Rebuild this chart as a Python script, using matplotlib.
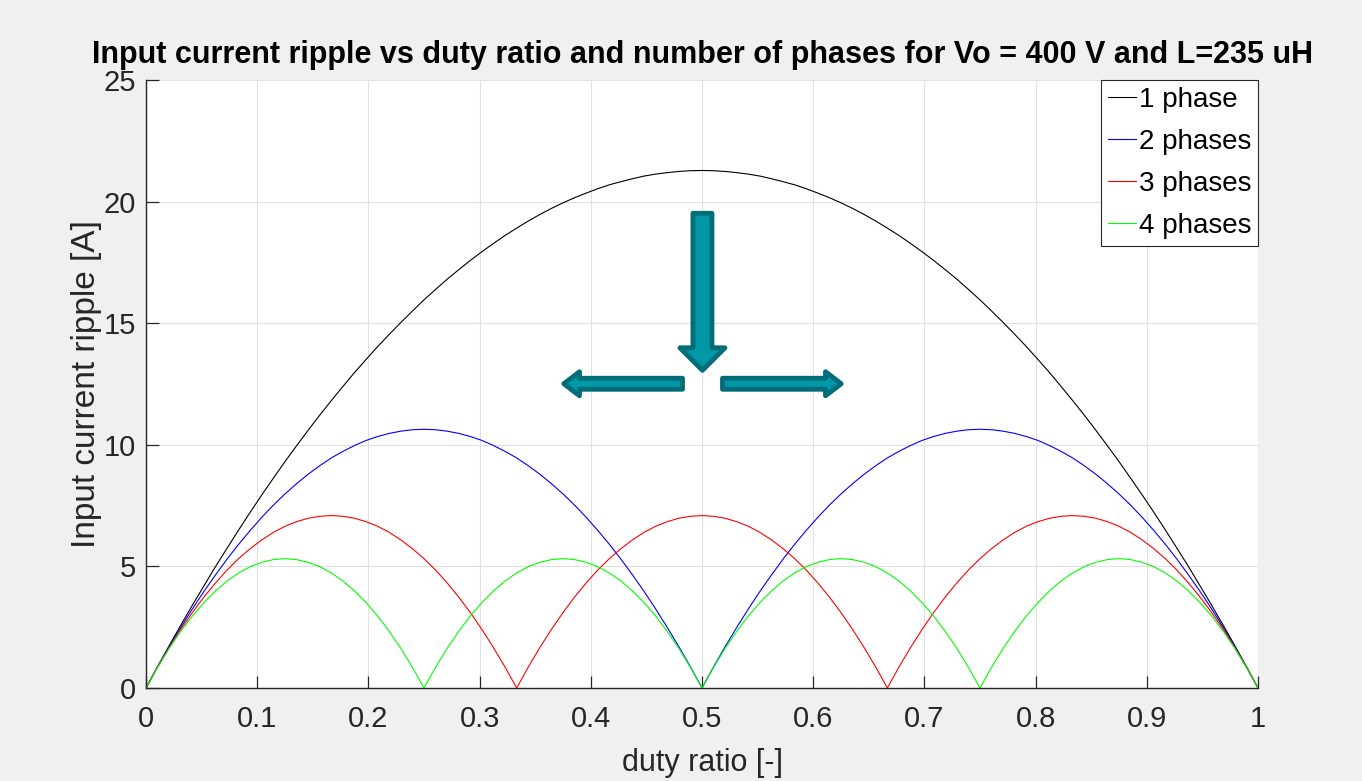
import numpy as np
import matplotlib
matplotlib.use("Agg")
import matplotlib.pyplot as plt
from matplotlib.patches import Polygon
import matplotlib.transforms as mtransforms

plt.rcParams['font.family'] = ['Liberation Sans', 'DejaVu Sans']

# ---- data ----
duty = np.linspace(0.0, 1.0, 97)

ripple_1 = [0.00, 0.88, 1.74, 2.58, 3.40, 4.20, 4.99, 5.75, 6.50, 7.23, 7.94, 8.63,
            9.31, 9.96, 10.60, 11.22, 11.82, 12.40, 12.97, 13.51, 14.04, 14.54, 15.03, 15.50,
            15.96, 16.39, 16.81, 17.20, 17.58, 17.94, 18.28, 18.61, 18.91, 19.20, 19.47, 19.72,
            19.95, 20.16, 20.35, 20.53, 20.69, 20.82, 20.94, 21.05, 21.13, 21.19, 21.24, 21.27,
            21.28,
            21.27, 21.24, 21.19, 21.13, 21.05, 20.94, 20.82, 20.69, 20.53, 20.35, 20.16, 19.95,
            19.72, 19.47, 19.20, 18.91, 18.61, 18.28, 17.94, 17.58, 17.20, 16.81, 16.39, 15.96,
            15.50, 15.03, 14.54, 14.04, 13.51, 12.97, 12.40, 11.82, 11.22, 10.60, 9.96, 9.31,
            8.63, 7.94, 7.23, 6.50, 5.75, 4.99, 4.20, 3.40, 2.58, 1.74, 0.88, 0.00]

ripple_2 = [0.00, 0.87, 1.70, 2.49, 3.25, 3.97, 4.65, 5.30, 5.91, 6.48, 7.02, 7.52,
            7.98, 8.40, 8.79, 9.14, 9.46, 9.73, 9.97, 10.18, 10.34, 10.47, 10.56, 10.62,
            10.64,
            10.62, 10.56, 10.47, 10.34, 10.18, 9.97, 9.73, 9.46, 9.14, 8.79, 8.40, 7.98,
            7.52, 7.02, 6.48, 5.91, 5.30, 4.65, 3.97, 3.25, 2.49, 1.70, 0.87, 0.00,
            0.87, 1.70, 2.49, 3.25, 3.97, 4.65, 5.30, 5.91, 6.48, 7.02, 7.52,
            7.98, 8.40, 8.79, 9.14, 9.46, 9.73, 9.97, 10.18, 10.34, 10.47, 10.56, 10.62,
            10.64,
            10.62, 10.56, 10.47, 10.34, 10.18, 9.97, 9.73, 9.46, 9.14, 8.79, 8.40, 7.98,
            7.52, 7.02, 6.48, 5.91, 5.30, 4.65, 3.97, 3.25, 2.49, 1.70, 0.87, 0.00]

ripple_3 = [0.00, 0.86, 1.66, 2.41, 3.10, 3.74, 4.32, 4.85, 5.32, 5.73, 6.09, 6.40,
            6.65, 6.84, 6.98, 7.06, 7.09, 7.06, 6.98, 6.84, 6.65, 6.40, 6.09, 5.73,
            5.32, 4.85, 4.32, 3.74, 3.10, 2.41, 1.66, 0.86, 0.00,
            0.86, 1.66, 2.41, 3.10, 3.74, 4.32, 4.85, 5.32, 5.73, 6.09, 6.40,
            6.65, 6.84, 6.98, 7.06, 7.09, 7.06, 6.98, 6.84, 6.65, 6.40, 6.09, 5.73,
            5.32, 4.85, 4.32, 3.74, 3.10, 2.41, 1.66, 0.86, 0.00,
            0.86, 1.66, 2.41, 3.10, 3.74, 4.32, 4.85, 5.32, 5.73, 6.09, 6.40,
            6.65, 6.84, 6.98, 7.06, 7.09, 7.06, 6.98, 6.84, 6.65, 6.40, 6.09, 5.73,
            5.32, 4.85, 4.32, 3.74, 3.10, 2.41, 1.66, 0.86, 0.00]

ripple_4 = [0.00, 0.85, 1.63, 2.33, 2.96, 3.51, 3.99, 4.40, 4.73, 4.99, 5.17, 5.28,
            5.32, 5.28, 5.17, 4.99, 4.73, 4.40, 3.99, 3.51, 2.96, 2.33, 1.63, 0.85, 0.00,
            0.85, 1.63, 2.33, 2.96, 3.51, 3.99, 4.40, 4.73, 4.99, 5.17, 5.28,
            5.32, 5.28, 5.17, 4.99, 4.73, 4.40, 3.99, 3.51, 2.96, 2.33, 1.63, 0.85, 0.00,
            0.85, 1.63, 2.33, 2.96, 3.51, 3.99, 4.40, 4.73, 4.99, 5.17, 5.28,
            5.32, 5.28, 5.17, 4.99, 4.73, 4.40, 3.99, 3.51, 2.96, 2.33, 1.63, 0.85, 0.00,
            0.85, 1.63, 2.33, 2.96, 3.51, 3.99, 4.40, 4.73, 4.99, 5.17, 5.28,
            5.32, 5.28, 5.17, 4.99, 4.73, 4.40, 3.99, 3.51, 2.96, 2.33, 1.63, 0.85, 0.00]

series_labels = ['1 phase', '2 phases', '3 phases', '4 phases']
series_colors = ['#000000', '#0000ff', '#ff0000', '#00ff00']

x_ticks = [0, 0.1, 0.2, 0.3, 0.4, 0.5, 0.6, 0.7, 0.8, 0.9, 1.0]
x_ticklabels = ['0', '0.1', '0.2', '0.3', '0.4', '0.5', '0.6', '0.7', '0.8', '0.9', '1']
y_ticks = [0, 5, 10, 15, 20, 25]
y_ticklabels = ['0', '5', '10', '15', '20', '25']

# ---- figure ----
W, H = 1362, 781
fig = plt.figure(figsize=(W / 100, H / 100), dpi=100, facecolor='#f0f0f0')
ax = fig.add_axes([146 / W, (H - 688) / H, 1112 / W, 608 / H])
ax.set_facecolor('white')

for ys, lab, col in zip([ripple_1, ripple_2, ripple_3, ripple_4], series_labels, series_colors):
    ax.plot(duty, ys, color=col, lw=0.8, label=lab, solid_joinstyle='round')

ax.set_xlim(0, 1)
ax.set_ylim(0, 25)
ax.set_xticks(x_ticks)
ax.set_xticklabels(x_ticklabels)
ax.set_yticks(y_ticks)
ax.set_yticklabels(y_ticklabels)

ax.grid(True, color='#e0e0e0', lw=0.8)
ax.set_axisbelow(True)
for s in ['top', 'right']:
    ax.spines[s].set_visible(False)
for s in ['left', 'bottom']:
    ax.spines[s].set_color('#262626')
    ax.spines[s].set_linewidth(1.0)

ax.tick_params(axis='both', direction='in', length=9, width=0.9, color='#262626',
               labelcolor='#262626', labelsize=21)
ax.tick_params(axis='x', pad=12)
ax.tick_params(axis='y', pad=7)

ax.set_xlabel('duty ratio [-]', fontsize=22, color='#262626', labelpad=11)
ax.set_ylabel('Input current ripple [A]', fontsize=24, color='#262626', labelpad=1)
ax.set_title('Input current ripple vs duty ratio and number of phases for Vo = 400 V and L=235 uH',
             fontsize=22, fontweight='bold', color='black', pad=12)

leg = ax.legend(loc='upper right', fontsize=20, frameon=True, fancybox=False,
                borderaxespad=0, borderpad=0.25, labelspacing=0.575,
                handlelength=1.0, handletextpad=0.1)
leg.get_frame().set_edgecolor('#262626')
leg.get_frame().set_linewidth(0.8)
leg.get_frame().set_facecolor('white')
leg.get_frame().set_alpha(1)

# ---- teal arrows (annotation shapes, offsets in pixels) ----
fill_c = '#0097a7'
edge_c = '#006d78'


def add_arrow(x, y, verts):
    fig.canvas.draw()
    px, py = ax.transData.transform((x, y))
    pts = [(px + vx, py + vy) for vx, vy in verts]
    poly = Polygon(pts, closed=True, transform=mtransforms.IdentityTransform(),
                   facecolor=fill_c, edgecolor=edge_c, lw=3.5, joinstyle='round', zorder=5)
    ax.add_artist(poly)


down_verts = [(0, 3), (22.5, 25.5), (9.5, 25.5), (9.5, 160.0), (-9.5, 160.0), (-9.5, 25.5),
              (-22.5, 25.5)]
left_verts = [(2.8, 0), (18.5, 12.0), (18.5, 5.5), (121.5, 5.5), (121.5, -5.5), (18.5, -5.5),
              (18.5, -12.0)]
right_verts = [(-vx, vy) for vx, vy in left_verts]

add_arrow(0.5004, 12.94, down_verts)
add_arrow(0.3732, 12.51, left_verts)
add_arrow(0.6277, 12.51, right_verts)

fig.savefig('out.png', dpi=100, facecolor=fig.get_facecolor())
